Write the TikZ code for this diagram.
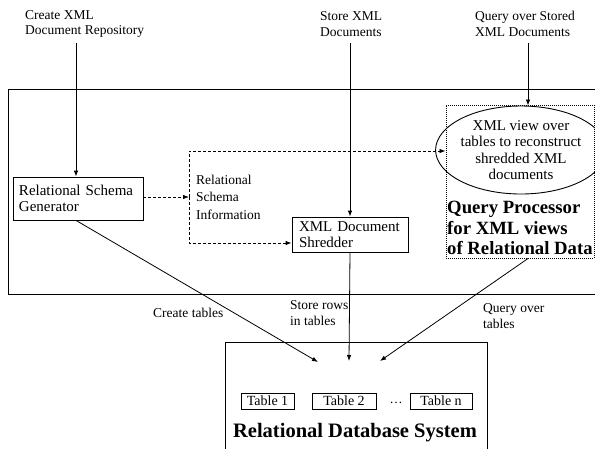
\documentclass[tikz,border=0pt]{standalone}
\usepackage{fontspec}
\setmainfont{Liberation Serif}
\usetikzlibrary{arrows.meta,shapes.geometric}
\tikzset{
  txt/.style={font=\fontsize{13.5}{15.5}\selectfont, inner sep=0pt, align=left},
  boxtxt/.style={font=\fontsize{15}{16.5}\selectfont, align=left},
  procbox/.style={draw, line width=0.8pt, inner sep=0pt, minimum width=#1},
  bigbold/.style={font=\fontsize{18.7}{20.5}\selectfont\bfseries, inner sep=0pt, align=left},
  arr/.style={line width=0.8pt, -{Latex[length=6pt,width=4.5pt]}},
  dsh/.style={line width=0.8pt, densely dashed, -{Latex[length=6pt,width=4.5pt]}},
  tbl/.style={draw, line width=0.7pt, minimum height=16pt, inner sep=0pt, font=\fontsize{14}{15}\selectfont},
}
\begin{document}
\begin{tikzpicture}[x=1pt,y=-1pt]
\useasboundingbox (0,0) rectangle (595,448);

% system boundary (open on the right)
\draw[line width=0.9pt] (600,89) -- (8,89) -- (8,294) -- (600,294);

% input labels at the top
\node[txt, anchor=west] (lcreate) at (25,24) {Create XML\\Document Repository};
\node[txt, anchor=west] (lstore) at (320,24) {Store XML\\Documents};
\node[txt, anchor=west] (lquery) at (475,24) {Query over Stored\\XML Documents};
\coordinate (s1) at (76,43);
\coordinate (s2) at (350,43);
\coordinate (s3) at (528,43);

% components
\node[procbox=130pt, minimum height=43pt, boxtxt, text width=118pt, inner xsep=0pt] (rsg) at (78,198.5)
  {Relational Schema\\Generator};
\node[procbox=116pt, minimum height=35pt, boxtxt, text width=102pt, inner xsep=0pt] (shred) at (350,234.5)
  {XML Document\\Shredder};
\node[draw, line width=1pt, densely dotted, minimum width=148pt, minimum height=153pt, inner sep=0pt] (qpbox) at (520,181.5) {};
\node[draw, ellipse, line width=0.9pt, minimum width=140pt, minimum height=88pt, inner sep=0pt,
      font=\fontsize{15}{16.5}\selectfont, align=center] (view) at (521,150)
  {XML view over\\tables to reconstruct\\shredded XML\\documents};
\node[bigbold, anchor=west] (qptxt) at (447,228) {Query Processor\\for XML views\\of Relational Data};

% schema information
\node[txt, anchor=west, font=\fontsize{13.5}{17.5}\selectfont] (rsi) at (196,197) {Relational\\Schema\\Information};
\coordinate (j) at (189,197);
\coordinate (jt) at (189,151);
\coordinate (jb) at (189,243);

% database
\draw[line width=0.9pt] (225,470) -- (225,342) -- (487,342) -- (487,470);
\node[tbl, minimum width=53pt] (t1) at (267.5,401) {Table 1};
\node[tbl, minimum width=64pt] (t2) at (344,401) {Table 2};
\node[font=\fontsize{13}{14}\selectfont, inner sep=0pt] (dots) at (396,403) {\dots};
\node[tbl, minimum width=62pt] (tn) at (441,401) {Table n};
\node[font=\fontsize{20.5}{22}\selectfont\bfseries, inner sep=0pt] (dbname) at (355,433) {Relational Database System};
\coordinate (d1) at (318,362);
\coordinate (d2) at (349,361);
\coordinate (d3) at (380,361);

% input connectors
\draw[arr] (s1) -- (rsg.north -| s1);
\draw[arr] (s2) -- (shred.north -| s2);
\draw[arr] (s3) -- (view.north -| s3);

% schema information flow
\draw[dsh] (rsg.east |- j) -- (j);
\draw[dsh] (j) -- (jt) -- (jt -| qpbox.west);
\draw[dsh] (j) -- (jb) -- (jb -| shred.west);

% connectors to the database
\draw[arr] (rsg.south -| s1) -- (d1);
\draw[arr] (shred.south) -- (d2);
\draw[arr] (qpbox.south -| s3) -- (d3);

% connector labels
\node[txt, anchor=west] (lct) at (153,313) {Create tables};
\node[txt, anchor=west] (lsr) at (290,313) {Store rows\\in tables};
\node[txt, anchor=west] (lqt) at (483,316) {Query over\\tables};
\end{tikzpicture}
\end{document}
